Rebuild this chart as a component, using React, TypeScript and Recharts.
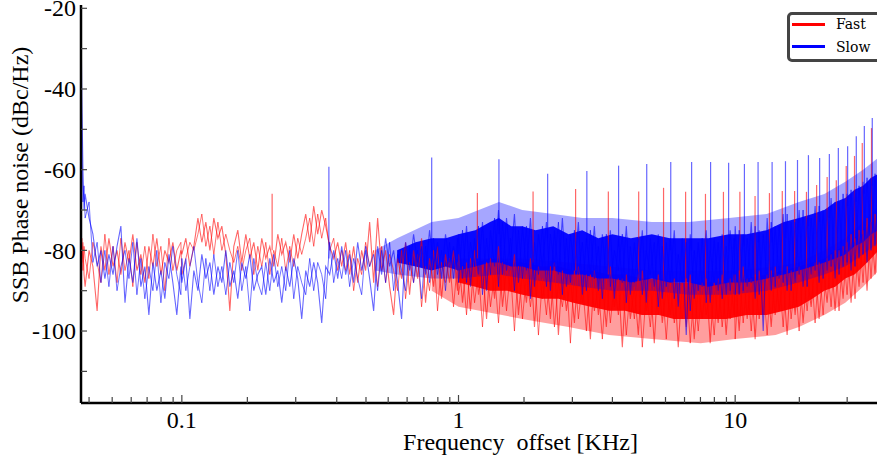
import React from 'react';
import { ComposedChart, Line, Area, XAxis, YAxis, ReferenceLine, Legend } from 'recharts';

// Frequency offset grid (KHz)
const freqKHz = [
  0.0432, 0.0435, 0.0439, 0.0443, 0.0447, 0.0462, 0.0477, 0.0494, 0.0510, 0.0527,
  0.0545, 0.0564, 0.0583, 0.0602, 0.0623, 0.0644, 0.0665, 0.0688, 0.0711, 0.0735,
  0.0760, 0.0786, 0.0812, 0.0840, 0.0868, 0.0898, 0.0928, 0.0959, 0.0992, 0.100,
  0.1034, 0.1069, 0.1105, 0.1143, 0.1181, 0.1221, 0.1263, 0.1305, 0.1350, 0.1395,
  0.1442, 0.1491, 0.1541, 0.1593, 0.1647, 0.1703, 0.1760, 0.1820, 0.1882, 0.1945,
  0.2011, 0.2079, 0.2149, 0.2222, 0.2297, 0.2374, 0.2455, 0.2538, 0.2624, 0.2712,
  0.2804, 0.2899, 0.2997, 0.3098, 0.3203, 0.3311, 0.3423, 0.3539, 0.3659, 0.3782,
  0.3910, 0.4042, 0.4179, 0.4321, 0.4466, 0.4617, 0.4773, 0.4935, 0.5101, 0.5274,
  0.5452, 0.5636, 0.5827, 0.6024, 0.6227, 0.6437, 0.6655, 0.6880, 0.7113, 0.7353,
  0.7601, 0.7858, 0.8124, 0.8398, 0.8682, 0.8975, 0.9279, 0.9592, 0.9916, 1.000,
  1.034, 1.069, 1.105, 1.143, 1.181, 1.221, 1.263, 1.305, 1.350, 1.395,
  1.442, 1.491, 1.541, 1.593, 1.647, 1.703, 1.760, 1.820, 1.882, 1.945,
  2.011, 2.079, 2.149, 2.222, 2.297, 2.374, 2.455, 2.538, 2.624, 2.712,
  2.804, 2.899, 2.997, 3.098, 3.203, 3.311, 3.423, 3.539, 3.659, 3.782,
  3.910, 4.042, 4.179, 4.321, 4.466, 4.617, 4.773, 4.935, 5.101, 5.274,
  5.452, 5.636, 5.827, 6.024, 6.227, 6.437, 6.655, 6.880, 7.113, 7.353,
  7.601, 7.858, 8.124, 8.398, 8.682, 8.975, 9.279, 9.592, 9.916, 10.00,
  10.34, 10.69, 11.05, 11.43, 11.81, 12.21, 12.63, 13.05, 13.50, 13.95,
  14.42, 14.91, 15.41, 15.93, 16.47, 17.03, 17.60, 18.20, 18.82, 19.45,
  20.11, 20.79, 21.49, 22.22, 22.97, 23.74, 24.55, 25.38, 26.24, 27.12,
  28.04, 28.99, 29.97, 30.98, 32.03, 33.11, 34.23, 35.39, 36.59, 37.82,
];

// "Fast" trace, sweep A (dBc/Hz)
const fastDb = [
  -76, -83, -78, -86, -89, -80, -84, -95, -79, -85,
  -77, -84, -80, -86, -78, -83, -76, -85, -81, -88,
  -79, -84, -77, -86, -80, -83, -78, -85, -80, -81,
  -77, -84, -79, -72, -78, -73, -80, -72, -77, -74,
  -81, -95, -79, -75, -83, -76, -82, -78, -85, -77,
  -82, -79, -84, -76, -81, -78, -83, -76, -82, -76,
  -71, -78, -69, -76, -70, -74, -79, -82, -78, -84,
  -78, -86, -79, -88, -80, -85, -73, -88, -72, -85,
  -80, -89, -96, -82, -87, -78, -91, -80, -87, -77,
  -93, -82, -89, -79, -92, -81, -88, -80, -90, -81,
  -93, -83, -95, -80, -91, -84, -97, -82, -92, -79,
  -94, -84, -90, -81, -96, -85, -93, -82, -99, -84,
  -92, -86, -97, -83, -101, -85, -95, -87, -98, -84,
  -93, -86, -102, -85, -96, -88, -99, -84, -94, -87,
  -104, -86, -97, -89, -101, -85, -95, -88, -103, -86,
  -98, -89, -96, -87, -104, -88, -99, -86, -102, -89,
  -97, -87, -103, -88, -98, -86, -101, -87, -96, -86,
  -100, -84, -97, -87, -102, -85, -96, -86, -99, -84,
  -95, -87, -101, -85, -96, -84, -98, -86, -94, -83,
  -97, -84, -93, -81, -95, -80, -92, -78, -93, -77,
  -89, -75, -90, -73, -86, -70, -85, -68, -81, -66,
];

// "Fast" trace, sweep B (dBc/Hz)
const fastDb2 = [
  -88, -77, -85, -79, -82, -87, -78, -83, -88, -76,
  -86, -79, -88, -77, -85, -80, -89, -78, -86, -79,
  -87, -76, -84, -79, -90, -77, -85, -80, -78, -86,
  -82, -78, -80, -76, -71, -79, -74, -81, -73, -80,
  -76, -80, -83, -79, -85, -80, -77, -86, -79, -84,
  -78, -86, -80, -84, -77, -85, -79, -84, -77, -81,
  -77, -72, -79, -71, -77, -72, -80, -77, -85, -80,
  -85, -80, -90, -82, -86, -78, -84, -80, -89, -79,
  -88, -81, -85, -90, -80, -92, -83, -88, -81, -94,
  -84, -90, -80, -95, -83, -88, -82, -94, -83, -91,
  -84, -96, -82, -93, -85, -99, -83, -94, -86, -98,
  -83, -95, -85, -100, -84, -97, -86, -94, -85, -101,
  -87, -96, -84, -99, -88, -94, -86, -103, -85, -97,
  -88, -100, -86, -95, -89, -102, -87, -98, -88, -96,
  -87, -101, -89, -97, -86, -104, -90, -99, -87, -96,
  -89, -102, -88, -98, -90, -97, -87, -103, -89, -100,
  -88, -96, -90, -101, -87, -99, -89, -97, -86, -102,
  -85, -98, -87, -100, -86, -97, -88, -101, -85, -96,
  -86, -99, -84, -97, -87, -100, -85, -95, -84, -98,
  -83, -96, -82, -94, -80, -95, -79, -91, -76, -92,
  -75, -88, -72, -87, -71, -84, -68, -82, -65, -78,
];

// "Slow" trace, sweep A (dBc/Hz)
const slowDb = [
  -21, -42, -60, -70, -66, -72, -76, -84, -80, -87,
  -81, -86, -79, -74, -93, -82, -88, -77, -89, -84,
  -96, -83, -90, -85, -92, -81, -88, -96, -84, -88,
  -82, -97, -85, -90, -81, -87, -83, -91, -84, -88,
  -80, -89, -85, -92, -83, -87, -81, -90, -86, -84,
  -91, -82, -88, -85, -93, -84, -89, -82, -87, -97,
  -85, -89, -83, -88, -98, -84, -86, -80, -87, -79,
  -86, -81, -88, -78, -85, -80, -87, -95, -79, -86,
  -77, -84, -80, -88, -97, -78, -85, -76, -83, -79,
  -86, -75, -84, -78, -87, -76, -83, -79, -85, -76,
  -87, -74, -89, -77, -86, -73, -90, -75, -84, -70,
  -86, -72, -83, -71, -88, -74, -85, -72, -89, -76,
  -84, -73, -90, -75, -86, -72, -89, -76, -85, -73,
  -91, -77, -86, -74, -90, -76, -87, -75, -92, -77,
  -88, -74, -91, -78, -87, -75, -93, -77, -89, -76,
  -92, -78, -88, -75, -94, -77, -101, -76, -92, -78,
  -89, -75, -93, -77, -90, -76, -91, -75, -88, -74,
  -91, -76, -89, -73, -92, -75, -100, -72, -90, -74,
  -87, -71, -90, -73, -88, -70, -89, -72, -86, -69,
  -88, -70, -85, -67, -87, -68, -84, -66, -85, -65,
  -82, -63, -83, -62, -79, -60, -80, -59, -76, -58,
];

// "Slow" trace, sweep B (dBc/Hz)
const slowDb2 = [
  -30, -55, -68, -64, -72, -68, -83, -78, -88, -80,
  -89, -79, -90, -84, -80, -87, -78, -91, -82, -92,
  -84, -90, -80, -93, -83, -87, -79, -86, -91, -82,
  -90, -84, -79, -88, -93, -82, -90, -81, -89, -84,
  -91, -83, -88, -80, -90, -84, -95, -82, -88, -91,
  -83, -90, -81, -89, -84, -90, -80, -92, -84, -88,
  -91, -82, -90, -83, -86, -92, -78, -88, -82, -87,
  -80, -89, -82, -87, -91, -79, -84, -81, -90, -80,
  -88, -78, -90, -81, -85, -90, -79, -88, -80, -92,
  -79, -88, -77, -86, -80, -90, -78, -87, -77, -88,
  -75, -88, -78, -84, -74, -91, -77, -86, -72, -89,
  -73, -85, -77, -90, -75, -87, -74, -92, -78, -86,
  -74, -89, -76, -84, -73, -91, -77, -88, -75, -86,
  -78, -90, -75, -87, -79, -92, -76, -89, -80, -85,
  -76, -93, -79, -88, -77, -91, -80, -86, -78, -94,
  -79, -89, -77, -92, -81, -88, -78, -95, -80, -90,
  -77, -93, -80, -88, -78, -92, -79, -90, -77, -91,
  -75, -90, -77, -88, -74, -91, -76, -87, -73, -89,
  -74, -88, -71, -90, -73, -86, -70, -89, -72, -85,
  -69, -87, -70, -84, -68, -86, -66, -83, -65, -84,
  -64, -81, -62, -80, -61, -78, -59, -77, -57, -75,
];

// Solid core of each trace (range lo/hi)
const slowCoreF = [0.6, 0.7, 0.8, 0.9, 1.0, 1.15, 1.3, 1.4, 1.55, 1.7, 1.9, 2.2, 2.5, 2.8, 3.2, 3.6, 4.2, 5.0, 5.8, 6.8, 8.0, 9.5, 11, 13, 15, 17, 19, 21, 23, 25, 27, 29, 31, 33, 35.5, 37.82];
const slowCoreLo = [-83, -84, -85, -84, -85, -84, -83, -83, -84, -84, -85, -85, -86, -86, -87, -87, -88, -87, -88, -88, -89, -88, -88, -87, -86, -85, -84, -83, -82, -81, -79, -78, -76, -75, -73, -72];
const slowCoreHi = [-80, -78, -77, -77, -76, -75, -73, -72, -74, -74, -75, -74, -76, -75, -77, -76, -77, -76, -77, -77, -77, -76, -76, -75, -73, -72, -71, -70, -68, -67, -65, -64, -62, -61, -59, -58];

const fastCoreF = [1.0, 1.15, 1.3, 1.5, 1.7, 2.0, 2.3, 2.6, 3.0, 3.5, 4.0, 4.6, 5.3, 6.0, 7.0, 8.0, 9.3, 11, 13, 15, 17, 19, 21, 23, 25, 27, 29, 31, 33, 35.5, 37.82];
const fastCoreLo = [-88, -89, -90, -90, -91, -92, -92, -93, -94, -95, -95, -96, -96, -97, -97, -97, -97, -96, -96, -95, -94, -92, -90, -89, -87, -86, -84, -82, -80, -78, -76];
const fastCoreHi = [-84, -83, -82, -83, -83, -84, -84, -85, -85, -86, -86, -87, -87, -88, -88, -88, -88, -87, -86, -85, -84, -83, -82, -80, -79, -77, -75, -73, -71, -69, -67];

// Lighter fringe envelope of each trace (range lo/hi)
const slowFringeF = [0.5, 0.6, 0.8, 1.0, 1.4, 1.7, 2.2, 2.8, 3.6, 5, 6.8, 9.5, 13, 17, 21, 25, 29, 33, 37.82];
const slowFringeLo = [-85, -86, -87, -87, -86, -87, -88, -89, -90, -90, -91, -91, -90, -88, -86, -84, -81, -78, -75];
const slowFringeHi = [-80, -77, -73, -72, -68, -70, -71, -72, -72, -73, -73, -72, -71, -68, -66, -63, -60, -57, -54];

const fastFringeF = [0.8, 1.0, 1.7, 2.5, 3.5, 5, 7.5, 10, 14, 17, 21, 25, 29, 33, 37.82];
const fastFringeLo = [-90, -94, -97, -99, -101, -102, -103, -102, -101, -99, -96, -93, -89, -85, -80];
const fastFringeHi = [-84, -82, -82, -83, -84, -85, -85, -85, -84, -83, -80, -77, -73, -69, -64];

// Spurs (harmonic spikes)
const slowSpikeF = [0.34, 0.80, 1.40, 2.10, 2.91, 3.79, 4.79, 5.85, 6.96, 8.15, 9.47, 10.8, 12.1, 13.6, 15.2, 16.8, 18.4, 20.2, 21.9, 23.6, 25.5, 27.4, 29.3, 31.3];
const slowSpikeTop = [-59.3, -57, -57.4, -61, -60.3, -59, -58.6, -58.1, -58.1, -58.1, -58.3, -58.6, -58.1, -58.1, -57.9, -57.6, -56.4, -57.1, -56.1, -54.6, -54.2, -51.7, -49.2, -47.2];
const slowSpikeBase = [-82, -80, -76, -77, -78, -79, -80, -80, -80, -80, -80, -79, -78, -78, -77, -75, -74, -73, -72, -70, -69, -68, -66, -64];

const fastSpikeF = [0.212, 1.17, 1.86, 2.65, 3.48, 4.48, 5.51, 6.62, 7.81, 9.07, 10.4, 11.8, 13.3, 14.8, 16.4, 18.1, 19.7, 21.5, 23.2, 25.2, 27.0, 28.8, 31.1];
const fastSpikeTop = [-66, -65.8, -65.4, -64.8, -65.4, -65.4, -64.5, -65.5, -66, -65.5, -65.5, -66.5, -65.8, -65.3, -65.3, -65.5, -63.8, -61.8, -62.6, -59.1, -56.6, -53.4, -49.7];
const fastSpikeBase = [-80, -82, -83, -85, -86, -87, -88, -89, -89, -89, -88, -88, -87, -87, -86, -85, -84, -83, -82, -80, -78, -76, -73];

// Axis ticks
const xTicks = [0.0462, 0.056, 0.0656, 0.0749, 0.0841, 0.093, 0.1, 0.1725, 0.258, 0.363, 0.463, 0.557, 0.652, 0.749, 0.842, 0.93, 1, 1.725, 2.58, 3.6, 4.62, 5.6, 6.56, 7.49, 8.41, 9.3, 10, 17.06, 25.4, 36];
const xMajorLabels: Record<string, string> = { '0.1': '0.1', '1': '1', '10': '10' };
const yTicks = [-110, -100, -90, -80, -70, -60, -50, -40, -30, -20];

const X_DOMAIN: [number, number] = [0.0432, 37.82];
const Y_DOMAIN: [number, number] = [-117.84, -19.18];

const SERIF = '"Liberation Serif", "Times New Roman", serif';
const RED = '#ff0000';
const BLUE = '#0000ff';

const fastData = freqKHz.map((f, i) => ({ f, a: fastDb[i], b: fastDb2[i] }));
const slowData = freqKHz.map((f, i) => ({ f, a: slowDb[i], b: slowDb2[i] }));
const fastCore = fastCoreF.map((f, i) => ({ f, band: [fastCoreLo[i], fastCoreHi[i]] }));
const slowCore = slowCoreF.map((f, i) => ({ f, band: [slowCoreLo[i], slowCoreHi[i]] }));
const fastFringe = fastFringeF.map((f, i) => ({ f, band: [fastFringeLo[i], fastFringeHi[i]] }));
const slowFringe = slowFringeF.map((f, i) => ({ f, band: [slowFringeLo[i], slowFringeHi[i]] }));

const YTick = (props: any) => {
  const { x, y, payload } = props;
  const v = payload.value;
  const major = v % 20 === 0;
  return (
    <g>
      <line x1={x} x2={x + 6} y1={y} y2={y} stroke="#444" strokeWidth={1.2} />
      {major && (
        <text x={x - 5} y={y} dy="0.34em" textAnchor="end" fontFamily={SERIF} fontSize={24} fill="#000">
          {v}
        </text>
      )}
    </g>
  );
};

const XTick = (props: any) => {
  const { x, y, payload } = props;
  const lbl = xMajorLabels[String(payload.value)];
  return (
    <g>
      <line x1={x} x2={x} y1={y} y2={y - (lbl ? 8 : 6)} stroke="#444" strokeWidth={1.2} />
      {lbl && (
        <text x={x} y={y + 25} textAnchor="middle" fontFamily={SERIF} fontSize={24} fill="#000">
          {lbl}
        </text>
      )}
    </g>
  );
};

const LegendBox = () => (
  <div
    style={{
      position: 'relative',
      width: 100,
      height: 44,
      border: '3px solid #444',
      borderRadius: 5,
      background: '#fff',
      fontFamily: '"DejaVu Serif", serif',
      fontSize: 14,
      color: '#000',
    }}
  >
    <div style={{ position: 'absolute', left: 2, top: 7.5, width: 33, height: 3, background: RED }} />
    <div style={{ position: 'absolute', left: 46, top: 1, lineHeight: '16px' }}>Fast</div>
    <div style={{ position: 'absolute', left: 2, top: 30, width: 33, height: 3, background: BLUE }} />
    <div style={{ position: 'absolute', left: 46, top: 23.5, lineHeight: '16px' }}>Slow</div>
  </div>
);

const bandProps = { dataKey: 'band', type: 'linear' as const, stroke: 'none', isAnimationActive: false, dot: false, activeDot: false, legendType: 'none' as const };
const lineProps = { type: 'linear' as const, dot: false, activeDot: false, isAnimationActive: false };

export default function App() {
  return (
    <div style={{ position: 'fixed', left: 0, top: 0, width: 877, height: 461, overflow: 'hidden', background: '#fff' }}>
      <ComposedChart width={910} height={461} margin={{ top: 5, right: 15, bottom: 0, left: 0 }}>
        <XAxis
          dataKey="f"
          type="number"
          scale="log"
          domain={X_DOMAIN}
          allowDataOverflow
          ticks={xTicks}
          interval={0}
          height={58}
          tickSize={0}
          tickMargin={0}
          tickLine={false}
          tick={XTick}
          axisLine={{ stroke: '#000', strokeWidth: 2.5 }}
          label={() => (
            <text x={520.5} y={450} textAnchor="middle" fontFamily={SERIF} fontSize={24} fill="#000" style={{ whiteSpace: 'pre' }} xmlSpace="preserve">
              {'Frequency  offset [KHz]'}
            </text>
          )}
        />
        <XAxis
          xAxisId="top"
          orientation="top"
          dataKey="f"
          type="number"
          scale="log"
          domain={X_DOMAIN}
          allowDataOverflow
          height={0}
          tick={false}
          tickLine={false}
          axisLine={{ stroke: '#000', strokeWidth: 3 }}
        />
        <YAxis
          type="number"
          domain={Y_DOMAIN}
          allowDataOverflow
          ticks={yTicks}
          interval={0}
          width={81}
          tickSize={0}
          tickMargin={0}
          tickLine={false}
          tick={YTick}
          axisLine={{ stroke: '#000', strokeWidth: 2.5 }}
          label={() => (
            <text x={28} y={175} transform="rotate(-90, 28, 175)" textAnchor="middle" fontFamily={SERIF} fontSize={24} fill="#000">
              SSB Phase noise (dBc/Hz)
            </text>
          )}
        />
        <Legend
          layout="horizontal"
          verticalAlign="middle"
          align="center"
          wrapperStyle={{ position: 'absolute', left: 787, top: 12, width: 106, height: 50 }}
          content={() => <LegendBox />}
        />

        <Area data={fastFringe} {...bandProps} fill={RED} fillOpacity={0.38} />
        <Area data={fastCore} {...bandProps} fill={RED} fillOpacity={0.95} />
        <Line data={fastData} dataKey="a" {...lineProps} stroke={RED} strokeOpacity={0.6} strokeWidth={1.1} name="Fast" />
        <Line data={fastData} dataKey="b" {...lineProps} stroke={RED} strokeOpacity={0.55} strokeWidth={1} legendType="none" />
        {fastSpikeF.map((f, i) => (
          <ReferenceLine
            key={'fs' + i}
            segment={[{ x: f, y: fastSpikeBase[i] }, { x: f, y: fastSpikeTop[i] }]}
            stroke={RED}
            strokeOpacity={0.6}
            strokeWidth={1.2}
          />
        ))}

        <Area data={slowFringe} {...bandProps} fill={BLUE} fillOpacity={0.35} />
        <Area data={slowCore} {...bandProps} fill={BLUE} fillOpacity={0.95} />
        <Line data={slowData} dataKey="a" {...lineProps} stroke={BLUE} strokeOpacity={0.6} strokeWidth={1.1} name="Slow" />
        <Line data={slowData} dataKey="b" {...lineProps} stroke={BLUE} strokeOpacity={0.55} strokeWidth={1} legendType="none" />
        {slowSpikeF.map((f, i) => (
          <ReferenceLine
            key={'ss' + i}
            segment={[{ x: f, y: slowSpikeBase[i] }, { x: f, y: slowSpikeTop[i] }]}
            stroke={BLUE}
            strokeOpacity={0.6}
            strokeWidth={1.2}
          />
        ))}
      </ComposedChart>
    </div>
  );
}
